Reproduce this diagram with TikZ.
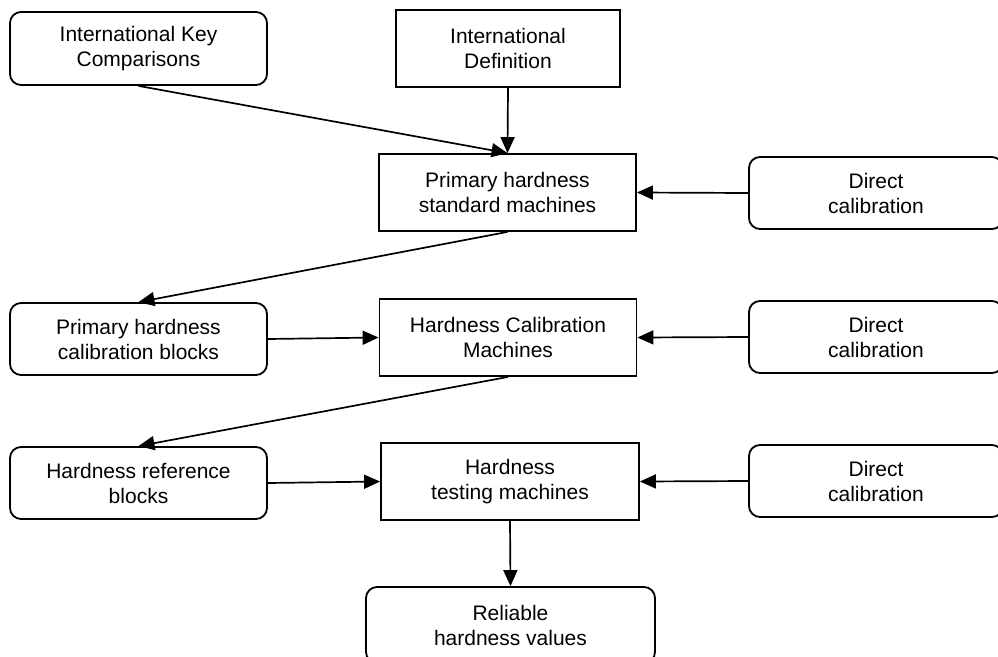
\documentclass[tikz,border=0pt]{standalone}
\usepackage{fontspec}
\setmainfont{Liberation Sans}
\usetikzlibrary{arrows.meta}
\begin{document}
\begin{tikzpicture}[x=1pt,y=-1pt,
  box/.style={draw,line width=1.8pt,inner sep=0pt,align=center,
    font=\fontsize{21}{25}\selectfont},
  rbox/.style={box,rounded corners=11pt},
  conn/.style={line width=1.7pt,-{Triangle[length=16pt,width=14pt]}}]
\useasboundingbox (0,0) rectangle (998,656);
\node[rbox,minimum width=257pt,minimum height=73pt] (ikc) at (138.5,48.5) {International Key\\Comparisons};
\node[box,minimum width=224pt,minimum height=77pt] (id) at (508,48.5) {International\\Definition};
\node[box,minimum width=257pt,minimum height=77pt] (phsm) at (507.5,192.5) {Primary hardness\\standard machines};
\node[rbox,minimum width=254pt,minimum height=72pt] (dc1) at (876,193) {Direct\\calibration};
\node[rbox,minimum width=257pt,minimum height=72pt] (phcb) at (138.5,339) {Primary hardness\\calibration blocks};
\node[box,minimum width=257pt,minimum height=77pt] (hcm) at (508,337.5) {Hardness Calibration\\Machines};
\node[rbox,minimum width=254pt,minimum height=72pt] (dc2) at (876,337) {Direct\\calibration};
\node[rbox,minimum width=257pt,minimum height=72pt] (hrb) at (138.5,483) {Hardness reference\\blocks};
\node[box,minimum width=258pt,minimum height=77pt] (htm) at (510,481.5) {Hardness\\testing machines};
\node[rbox,minimum width=254pt,minimum height=72pt] (dc3) at (876,481) {Direct\\calibration};
\node[rbox,minimum width=289pt,minimum height=76pt] (rhv) at (510.5,625) {Reliable\\hardness values};
\draw[conn] (ikc.south) -- (phsm.north);
\draw[conn] (id.south) -- (phsm.north);
\draw[conn] (dc1.west) -- (phsm.east);
\draw[conn] (phsm.south) -- (phcb.north);
\draw[conn] (phcb.east) -- (hcm.west);
\draw[conn] (dc2.west) -- (hcm.east);
\draw[conn] (hcm.south) -- (hrb.north);
\draw[conn] (hrb.east) -- (htm.west);
\draw[conn] (dc3.west) -- (htm.east);
\draw[conn] (htm.south) -- (rhv.north);
\end{tikzpicture}
\end{document}
